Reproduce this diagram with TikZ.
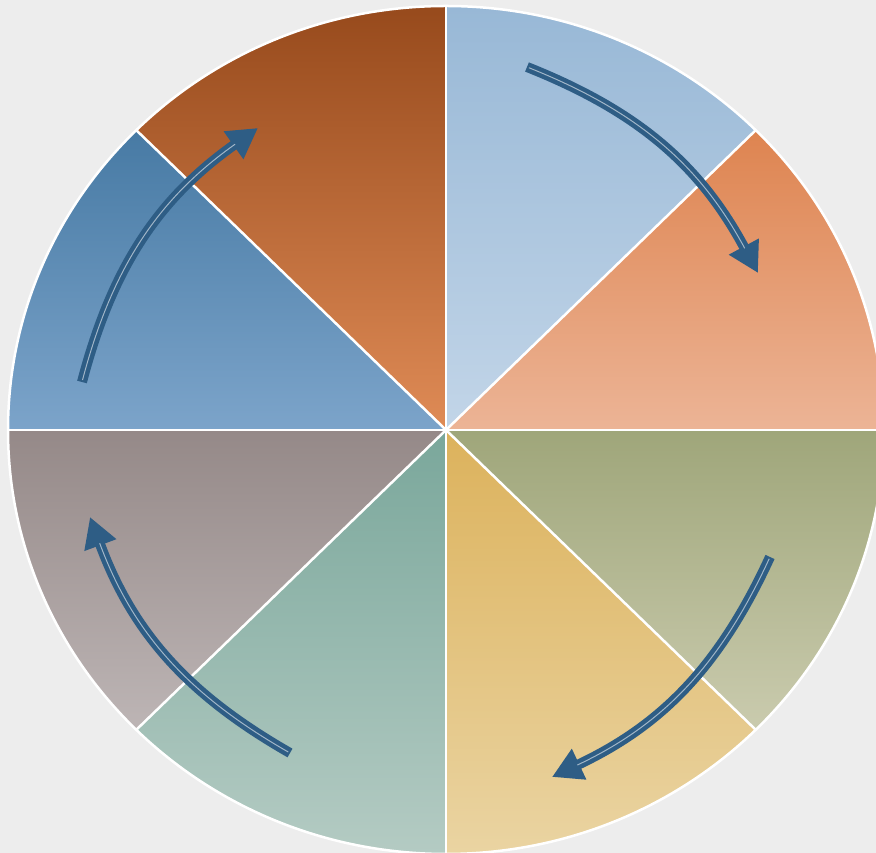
\documentclass[tikz,border=0pt]{standalone}
\usepackage{tikz}
\usepackage{xcolor}
\usetikzlibrary{arrows.meta, calc}
\definecolor{cBack}{HTML}{EDEDED}
\definecolor{cArrow}{HTML}{2E5D85}
\definecolor{cSkyT}{HTML}{98B8D6}
\definecolor{cSkyB}{HTML}{C2D5E8}
\definecolor{cPeachT}{HTML}{DE8450}
\definecolor{cPeachB}{HTML}{ECB496}
\definecolor{cOliveT}{HTML}{9FA67A}
\definecolor{cOliveB}{HTML}{CACBAE}
\definecolor{cGoldT}{HTML}{DCB25C}
\definecolor{cGoldB}{HTML}{EAD4A2}
\definecolor{cTealT}{HTML}{7AA79B}
\definecolor{cTealB}{HTML}{B4CBC3}
\definecolor{cMauveT}{HTML}{958988}
\definecolor{cMauveB}{HTML}{BDB5B5}
\definecolor{cBlueT}{HTML}{477AA4}
\definecolor{cBlueB}{HTML}{7CA4CA}
\definecolor{cRustT}{HTML}{974A1C}
\definecolor{cRustB}{HTML}{DF8B56}
\tikzset{
	divider/.style  ={draw=white, line width=2.5pt},
	rim/.style      ={draw=white, line width=2.5pt},
	% cycle arrows: dark stroke with a thin light core
	cycarrow/.style ={draw=cArrow, line width=10pt, -{Triangle[length=30pt, width=32pt]}},
	cycline/.style  ={draw=cArrow!45!white, line width=1pt, shorten >=28pt, shorten <=2pt},
}
\begin{document}
\begin{tikzpicture}[x=1pt, y=1pt]
	\useasboundingbox (0,0) rectangle (876,853);
	\fill[cBack] (0,0) rectangle (876,853);
	\clip (0,0) rectangle (876,853);
	\coordinate (c) at (446,423);
	% eight sectors, each with a vertical gradient
	\foreach \a/\ct/\cb in {45/cSkyT/cSkyB, 0/cPeachT/cPeachB, -45/cOliveT/cOliveB, -90/cGoldT/cGoldB,
		-135/cTealT/cTealB, 180/cMauveT/cMauveB, 135/cBlueT/cBlueB, 90/cRustT/cRustB}
		\shade[top color=\ct, bottom color=\cb] (c) -- ++(\a:438 and 424)
			arc[start angle=\a, end angle=\a+45, x radius=438, y radius=424] -- cycle;
	\draw[rim] (c) ellipse [x radius=438, y radius=424];
	\foreach \a in {0,45,...,315}
		\draw[divider] (c) -- ++(\a:438 and 424);
	% arrow ends
	\coordinate (t1) at (527,786); \coordinate (h1) at (758,580);
	\coordinate (t2) at (770,296); \coordinate (h2) at (552,76);
	\coordinate (t3) at (290,100); \coordinate (h3) at (90,336);
	\coordinate (t4) at (82,471);  \coordinate (h4) at (258,725);
	\foreach \i in {1,...,4} {
		\draw[cycarrow] (t\i) to[bend left=20] (h\i);
		\draw[cycline] (t\i) to[bend left=20] (h\i);
	}
\end{tikzpicture}
\end{document}
